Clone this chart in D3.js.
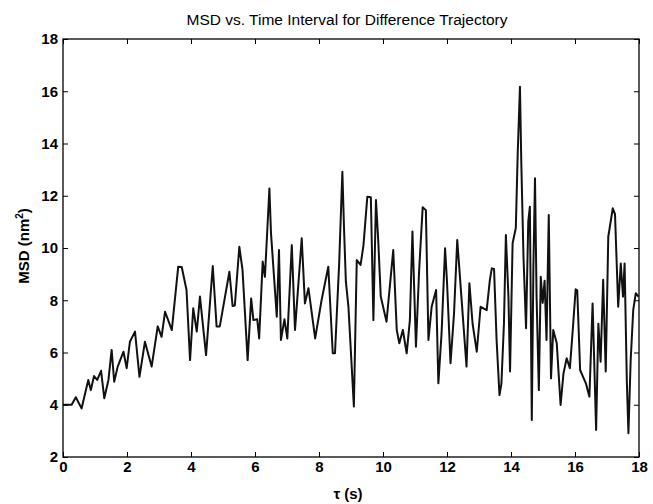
<!DOCTYPE html>
<html>
<head>
<meta charset="utf-8">
<script src="https://cdn.jsdelivr.net/npm/d3@7"></script>
<style>
  body { margin: 0; background: #fff; }
  text { font-family: "Liberation Sans", Arial, sans-serif; fill: #000; }
</style>
</head>
<body>
<div id="chart"></div>
<script>
// time interval tau (s) and MSD (nm^2)
const tau = [0, 0.27, 0.4, 0.58, 0.79, 0.87, 0.97, 1.07, 1.19, 1.29, 1.42, 1.52, 1.6, 1.71, 1.89, 1.99,
  2.09, 2.25, 2.39, 2.56, 2.77, 2.96, 3.08, 3.19, 3.4, 3.6, 3.71, 3.86, 3.97, 4.07, 4.18, 4.28,
  4.47, 4.68, 4.8, 4.9, 5.2, 5.3, 5.37, 5.51, 5.61, 5.77, 5.88, 5.95, 6.07, 6.13, 6.24, 6.31,
  6.45, 6.5, 6.63, 6.68, 6.75, 6.81, 6.92, 7.01, 7.15, 7.25, 7.46, 7.56, 7.67, 7.88, 8.08, 8.29,
  8.43, 8.5, 8.63, 8.73, 8.78, 8.84, 8.92, 9.09, 9.18, 9.3, 9.39, 9.51, 9.62, 9.7, 9.78, 9.85,
  9.93, 10.11, 10.32, 10.43, 10.51, 10.62, 10.74, 10.84, 10.92, 11.03, 11.13, 11.24, 11.34, 11.42,
  11.52, 11.66, 11.73, 11.83, 11.94, 12.0, 12.11, 12.22, 12.32, 12.44, 12.61, 12.7, 12.8, 12.93,
  13.05, 13.24, 13.34, 13.4, 13.47, 13.55, 13.64, 13.7, 13.78, 13.84, 13.92, 13.97, 14.05, 14.15,
  14.21, 14.28, 14.32, 14.39, 14.47, 14.54, 14.59, 14.65, 14.7, 14.75, 14.8, 14.87, 14.93, 14.99,
  15.05, 15.11, 15.18, 15.25, 15.32, 15.43, 15.55, 15.64, 15.74, 15.84, 15.93, 16.02, 16.07, 16.16,
  16.34, 16.45, 16.55, 16.66, 16.73, 16.8, 16.88, 16.96, 17.04, 17.18, 17.25, 17.35, 17.43, 17.5,
  17.55, 17.62, 17.67, 17.74, 17.82, 17.9, 17.98];
const msd = [4.0, 4.0, 4.29, 3.86, 4.95, 4.56, 5.1, 4.95, 5.3, 4.25, 4.95, 6.1, 4.88, 5.46, 6.03, 5.4,
  6.41, 6.8, 5.07, 6.41, 5.46, 7.0, 6.6, 7.56, 6.86, 9.28, 9.27, 8.39, 5.71, 7.69, 6.8, 8.14,
  5.9, 9.31, 7.0, 7.0, 9.09, 7.78, 7.8, 10.05, 9.16, 5.71, 8.07, 7.24, 7.27, 6.54, 9.48, 8.9,
  12.28, 10.56, 8.27, 7.37, 9.92, 6.48, 7.27, 6.54, 10.11, 6.86, 10.37, 7.88, 8.46, 6.54, 8.0, 9.28,
  5.97, 5.97, 9.41, 12.92, 10.82, 8.71, 7.75, 3.93, 9.54, 9.35, 10.11, 11.96, 11.94, 7.24, 11.84, 10.31,
  8.14, 7.18, 9.92, 6.86, 6.35, 6.86, 5.97, 7.24, 10.63, 6.22, 9.16, 11.56, 11.45, 6.48,
  7.75, 8.39, 4.82, 6.73, 9.99, 8.71, 5.59, 7.5, 10.31, 8.3, 5.46, 8.65, 7.1, 6.03,
  7.75, 7.62, 8.78, 9.22, 9.2, 6.48, 4.37, 4.8, 7.12, 10.5, 8.14, 5.27, 10.18, 10.76,
  13.63, 16.17, 13.37, 9.67, 6.93, 11.01, 11.58, 3.42, 9.28, 12.67, 8.1, 4.56, 8.9, 7.9,
  8.75, 6.48, 11.26, 5.01, 6.86, 6.35, 3.99, 5.2, 5.78, 5.4, 6.86, 8.42, 8.38, 5.33,
  4.82, 4.31, 7.88, 3.03, 7.1, 5.65, 8.78, 5.27, 10.43, 11.52, 11.3, 7.75, 9.41, 8.14,
  9.41, 4.88, 2.91, 5.71, 7.63, 8.27, 8.14];
const xTicks = [0, 2, 4, 6, 8, 10, 12, 14, 16, 18];
const yTicks = [2, 4, 6, 8, 10, 12, 14, 16, 18];

const width = 653, height = 504;
const margin = { top: 39, right: 14, bottom: 47, left: 63 };
const w = width - margin.left - margin.right;
const h = height - margin.top - margin.bottom;

const svg = d3.select("#chart").append("svg")
  .attr("width", width)
  .attr("height", height);

const g = svg.append("g")
  .attr("transform", `translate(${margin.left},${margin.top})`);

const x = d3.scaleLinear().domain([0, 18]).range([0, w]);
const y = d3.scaleLinear().domain([2, 18]).range([h, 0]);

// line
const points = tau.map((t, i) => [t, msd[i]]);
g.append("path")
  .datum(points)
  .attr("fill", "none")
  .attr("stroke", "#111")
  .attr("stroke-width", 2)
  .attr("stroke-linejoin", "round")
  .attr("d", d3.line().x(d => x(d[0])).y(d => y(d[1])));

// axes, ticks pointing inward like matlab
const tick = 5;
g.append("g")
  .attr("transform", `translate(0,${h})`)
  .call(d3.axisBottom(x).tickValues(xTicks).tickSizeInner(-tick).tickSizeOuter(0).tickPadding(4));
g.append("g")
  .call(d3.axisLeft(y).tickValues(yTicks).tickSizeInner(-tick).tickSizeOuter(0).tickPadding(5));
g.append("g")
  .call(d3.axisTop(x).tickValues(xTicks).tickSizeInner(-tick).tickSizeOuter(0).tickFormat(""));
g.append("g")
  .attr("transform", `translate(${w},0)`)
  .call(d3.axisRight(y).tickValues(yTicks).tickSizeInner(-tick).tickSizeOuter(0).tickFormat(""));

g.selectAll(".domain").remove();
g.selectAll(".tick line").attr("stroke", "#000").attr("stroke-width", 1);
g.selectAll(".tick text")
  .style("font-family", "'Liberation Sans', Arial, sans-serif")
  .style("font-size", "15px")
  .style("font-weight", "bold")
  .attr("fill", "#000");

// box
g.append("rect")
  .attr("width", w)
  .attr("height", h)
  .attr("fill", "none")
  .attr("stroke", "#000")
  .attr("stroke-width", 1.3);

// title and labels
svg.append("text")
  .attr("x", 347)
  .attr("y", 25)
  .attr("text-anchor", "middle")
  .style("font-size", "15.5px")
  .text("MSD vs. Time Interval for Difference Trajectory");

svg.append("text")
  .attr("x", 348)
  .attr("y", 499)
  .attr("text-anchor", "middle")
  .style("font-size", "15px")
  .style("font-weight", "bold")
  .text("τ (s)");

const yl = svg.append("text")
  .attr("transform", "translate(29,246) rotate(-90)")
  .attr("text-anchor", "middle")
  .style("font-size", "15px")
  .style("font-weight", "bold");
yl.append("tspan").text("MSD (nm");
yl.append("tspan").attr("dy", -6).style("font-size", "10px").text("2");
yl.append("tspan").attr("dy", 6).text(")");
</script>
</body>
</html>
